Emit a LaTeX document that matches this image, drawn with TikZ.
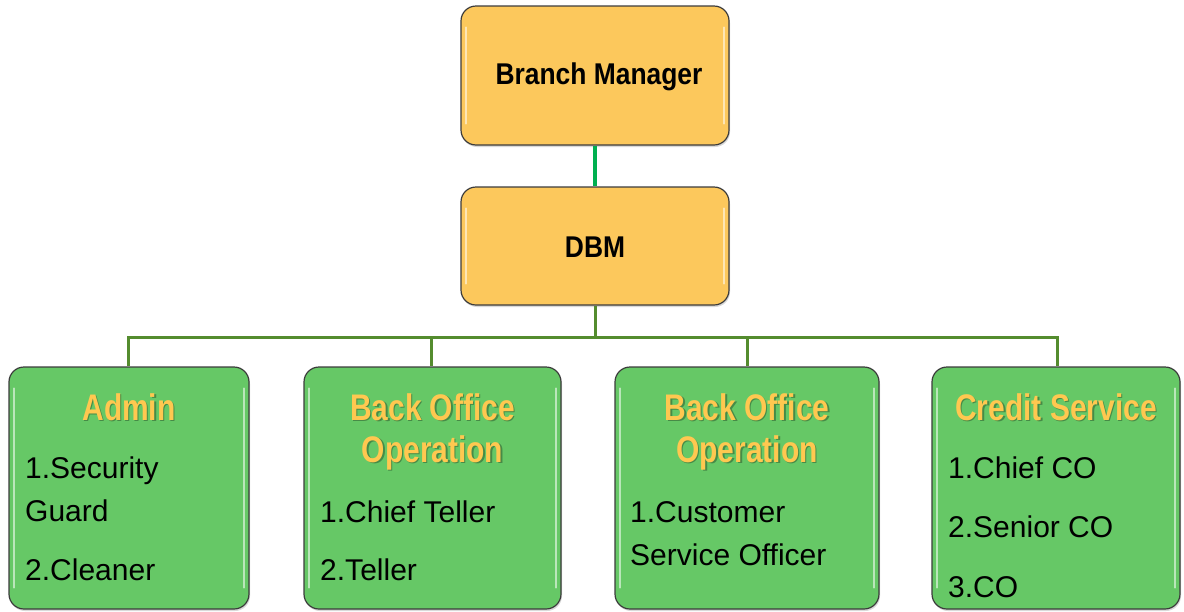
\documentclass[tikz,border=0pt]{standalone}
\usepackage{fontspec}
\setmainfont{Liberation Sans}
\newfontfamily\narrowfont[FakeStretch=0.81]{Liberation Sans}
\newfontfamily\headfont[FakeStretch=0.88]{Liberation Sans}
\usetikzlibrary{shadows}
\definecolor{boxorange}{RGB}{252,200,92}
\definecolor{boxgreen}{RGB}{102,200,102}
\definecolor{titleyellow}{RGB}{255,200,80}
\definecolor{linkgreen}{RGB}{0,176,80}
\definecolor{busgreen}{RGB}{84,140,46}
\definecolor{edgegray}{RGB}{60,60,60}
\begin{document}
\begin{tikzpicture}[x=1pt,y=-1pt,
  card/.style={draw=edgegray, line width=1.2pt, rounded corners=15pt, inner sep=0pt,
    drop shadow={opacity=0.3, shadow xshift=1pt, shadow yshift=-2pt}},
  topcard/.style={card, fill=boxorange, minimum width=268pt},
  deptcard/.style={card, fill=boxgreen, minimum height=242pt},
  toptext/.style={font=\headfont\bfseries\fontsize{30}{36}\selectfont, inner sep=0pt},
  title/.style={font=\narrowfont\bfseries\fontsize{37}{42}\selectfont, text=titleyellow, inner sep=0pt, anchor=base},
  titleshade/.style={title, text=black, opacity=0.3},
  item/.style={font=\fontsize{30}{36}\selectfont, inner sep=0pt, anchor=base west},
  gloss/.style={white, opacity=0.55, line width=2pt, line cap=round},
  link/.style={linkgreen, line width=3.5pt},
  bus/.style={busgreen, line width=3pt}]
\useasboundingbox (0,0) rectangle (1184,611);

% boxes
\node[topcard, minimum height=139pt] (bm) at (595,75.5) {};
\node[topcard, minimum height=118pt] (dbm) at (595,246) {};
\node[deptcard, minimum width=240pt] (admin) at (129,488) {};
\node[deptcard, minimum width=257pt] (backa) at (432.5,488) {};
\node[deptcard, minimum width=264pt] (backb) at (747,488) {};
\node[deptcard, minimum width=248pt] (credit) at (1056,488) {};

% glossy edge highlights
\foreach \b in {bm,dbm,admin,backa,backb,credit}{
  \draw[gloss] ([xshift=6pt,yshift=-22pt]\b.north west) -- ([xshift=6pt,yshift=22pt]\b.south west);
  \draw[gloss] ([xshift=-6pt,yshift=-22pt]\b.north east) -- ([xshift=-6pt,yshift=22pt]\b.south east);
}

% connectors
\coordinate (bus) at (595,337);
\draw[link] (bm.south) -- (dbm.north);
\draw[bus] (dbm.south) -- (bus);
\draw[bus] ([xshift=-1pt]admin.north) |- (bus);
\draw[bus] ([xshift=-1.5pt]backa.north) |- (bus);
\draw[bus] (backb.north) |- (bus);
\draw[bus] ([xshift=1pt]credit.north) |- (bus);

% top labels
\node[toptext] (bmtxt) at ([xshift=4pt,yshift=-1pt]bm.center) {Branch Manager};
\node[toptext] (dbmtxt) at ([yshift=-1pt]dbm.center) {DBM};

% department titles (with soft shade)
\foreach \n/\x/\y/\t in {ta/129/420/Admin, tb/432.5/420/Back Office, tc/432.5/462/Operation,
    td/747/420/Back Office, te/747/462/Operation, tf/1056/420/Credit Service}{
  \node[titleshade] (\n s) at (\x+1.5,\y+1.5) {\t};
  \node[title] (\n) at (\x,\y) {\t};
}

% staff lists
\node[item] (a1) at (25,478) {1.Security};
\node[item] (a2) at (25,521) {Guard};
\node[item] (a3) at (25,580) {2.Cleaner};
\node[item] (b1) at (320,522) {1.Chief Teller};
\node[item] (b2) at (320,580) {2.Teller};
\node[item] (c1) at (630,522) {1.Customer};
\node[item] (c2) at (630,565) {Service Officer};
\node[item] (d1) at (948,478) {1.Chief CO};
\node[item] (d2) at (948,537) {2.Senior CO};
\node[item] (d3) at (948,597) {3.CO};
\end{tikzpicture}
\end{document}
